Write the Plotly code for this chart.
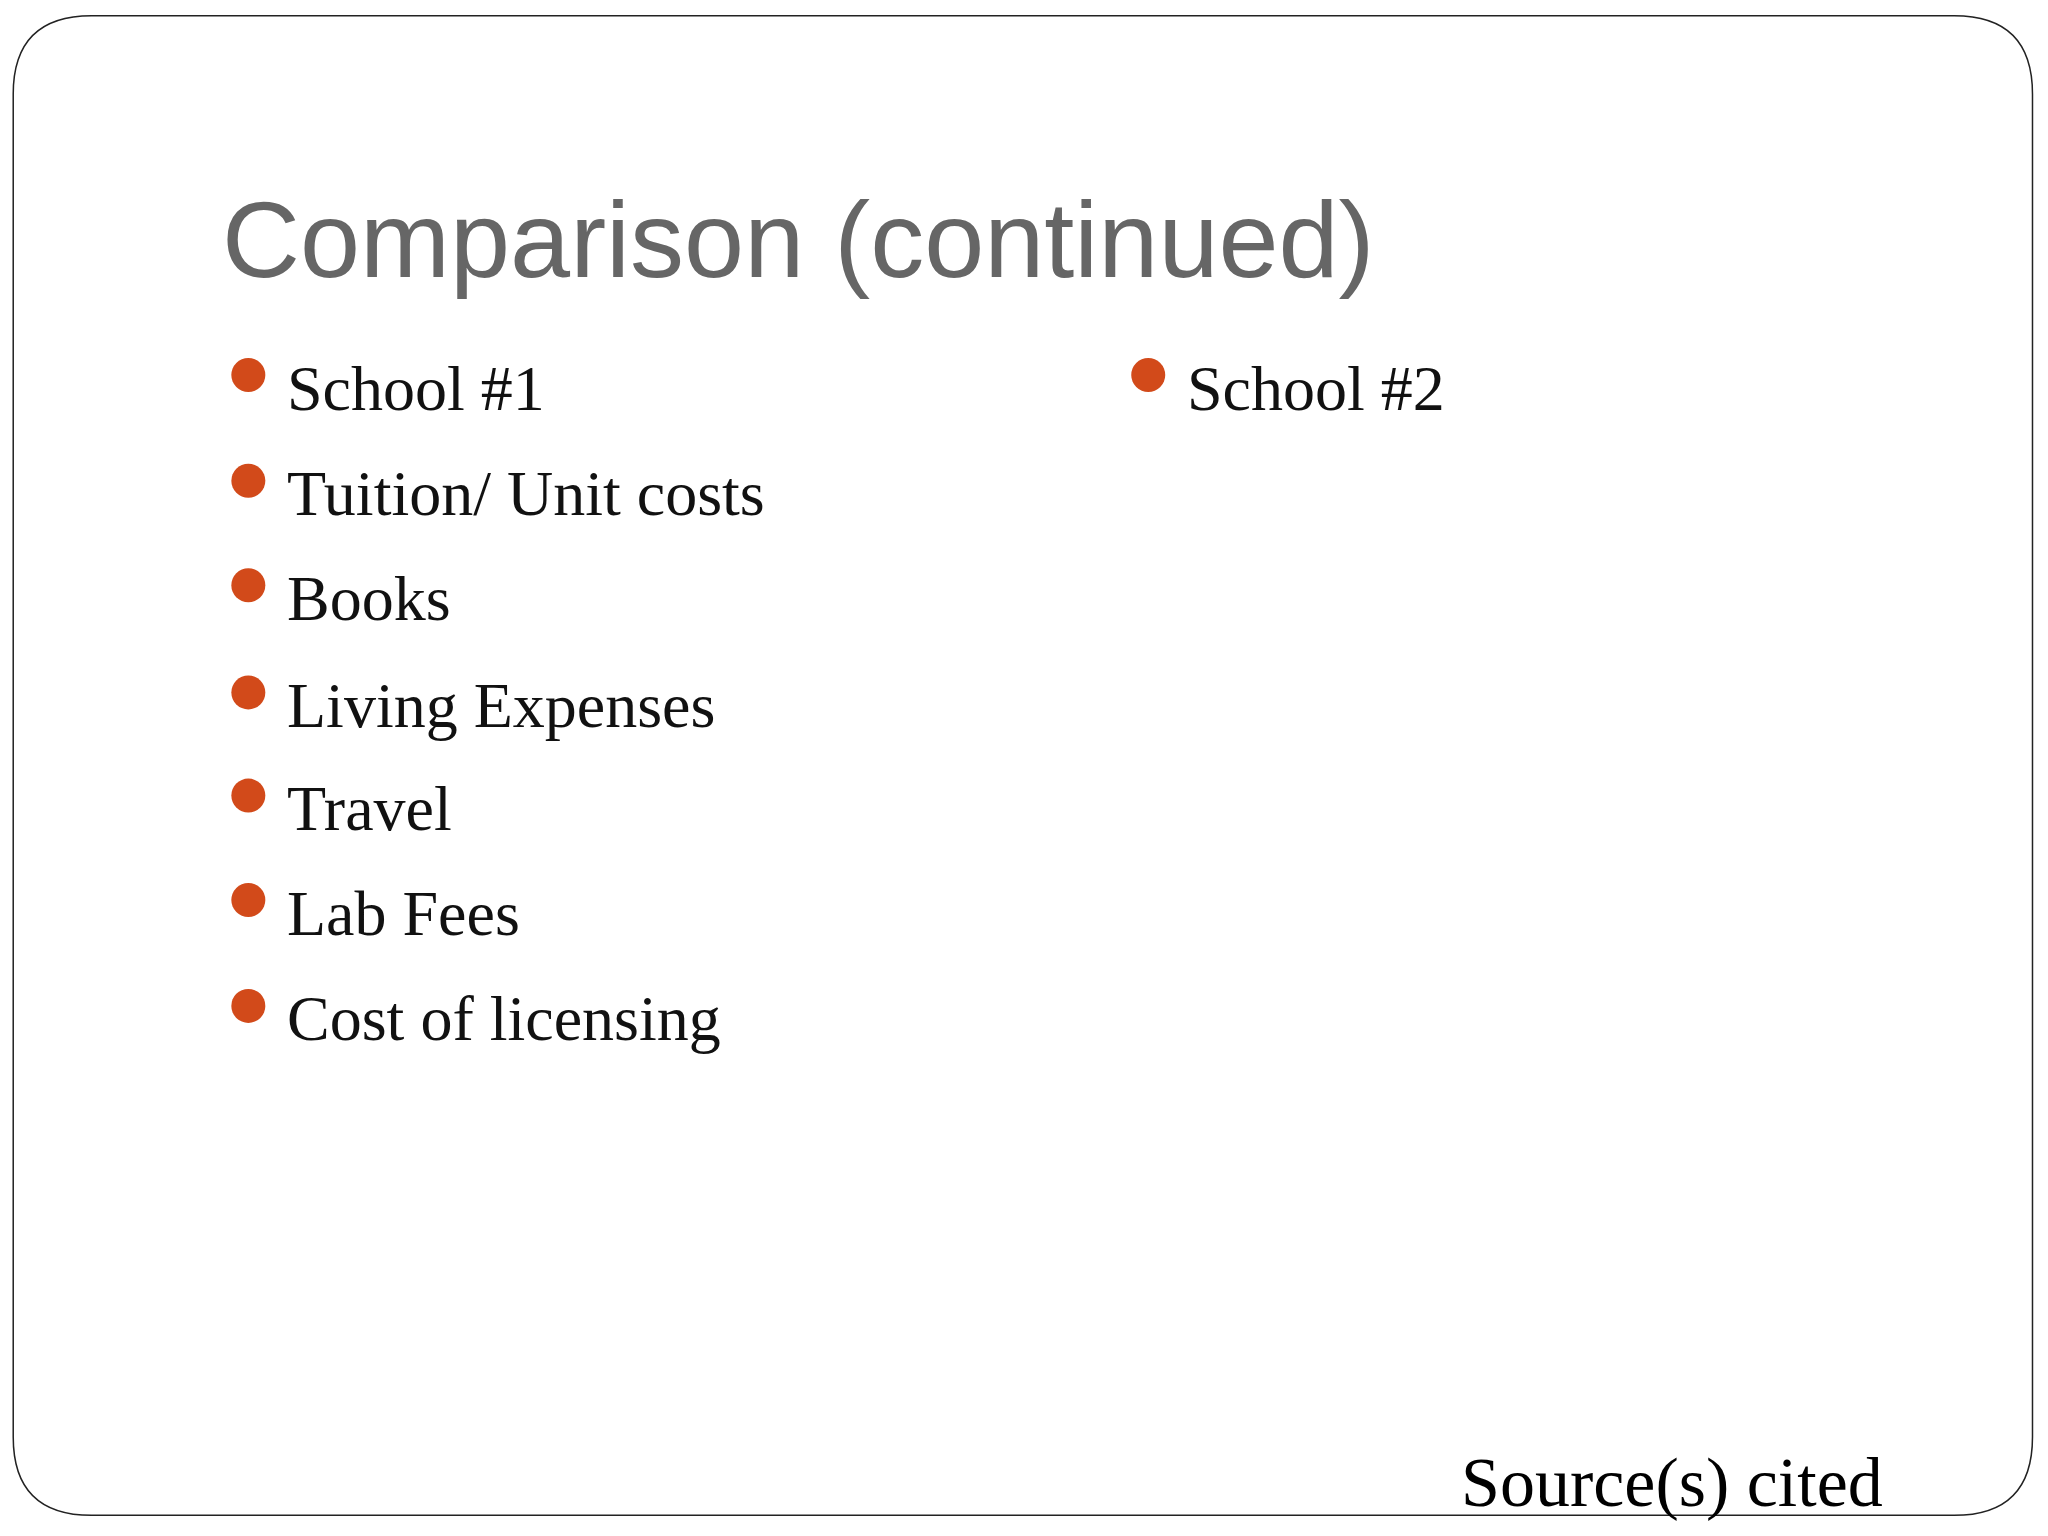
import plotly.graph_objects as go

title = "Comparison (continued)"
left_items = ["School #1", "Tuition/ Unit costs", "Books", "Living Expenses", "Travel", "Lab Fees", "Cost of licensing"]
left_y = [297, 378, 458, 540, 619, 699, 780]
right_items = ["School #2"]
right_y = [297]
footer = "Source(s) cited"

W, H = 1568, 1176
OFF = 6
fig = go.Figure()
bx = [190] * len(left_items) + [879] * len(right_items)
by = [y - 10 for y in left_y] + [y - 10 for y in right_y]
fig.add_trace(go.Scatter(x=bx, y=by, mode="markers",
                         marker=dict(size=34, color="#D24A1A"), hoverinfo="skip", showlegend=False))
for t, y in zip(left_items, left_y):
    fig.add_annotation(x=218, y=y, text=t, xanchor="left", yanchor="middle", showarrow=False,
                       font=dict(family="Liberation Serif", size=64, color="#111"))
for t, y in zip(right_items, right_y):
    fig.add_annotation(x=907, y=y, text=t, xanchor="left", yanchor="middle", showarrow=False,
                       font=dict(family="Liberation Serif", size=64, color="#111"))
fig.add_annotation(x=168, y=183, text=title, xanchor="left", yanchor="middle", showarrow=False,
                   font=dict(family="Liberation Sans", size=108, color="#666666"))
fig.add_annotation(x=1443, y=1135, text=footer, xanchor="right", yanchor="middle", showarrow=False,
                   font=dict(family="Liberation Serif", size=70, color="#000"))

r = 60; x0, x1, y0, y1 = 10, 1556, 12, 1160
path = (f"M {x0+r} {y0} L {x1-r} {y0} Q {x1} {y0} {x1} {y0+r} L {x1} {y1-r} Q {x1} {y1} {x1-r} {y1} "
        f"L {x0+r} {y1} Q {x0} {y1} {x0} {y1-r} L {x0} {y0+r} Q {x0} {y0} {x0+r} {y0} Z")
fig.add_shape(type="path", path=path, line=dict(color="#222", width=1.5), xref="x", yref="y")

fig.update_xaxes(range=[OFF, W + OFF], visible=False)
fig.update_yaxes(range=[H + OFF, OFF], visible=False)
fig.update_layout(width=2048, height=1536, margin=dict(l=0, r=0, t=0, b=0),
                  paper_bgcolor="white", plot_bgcolor="white")
fig.write_html("out.html")
